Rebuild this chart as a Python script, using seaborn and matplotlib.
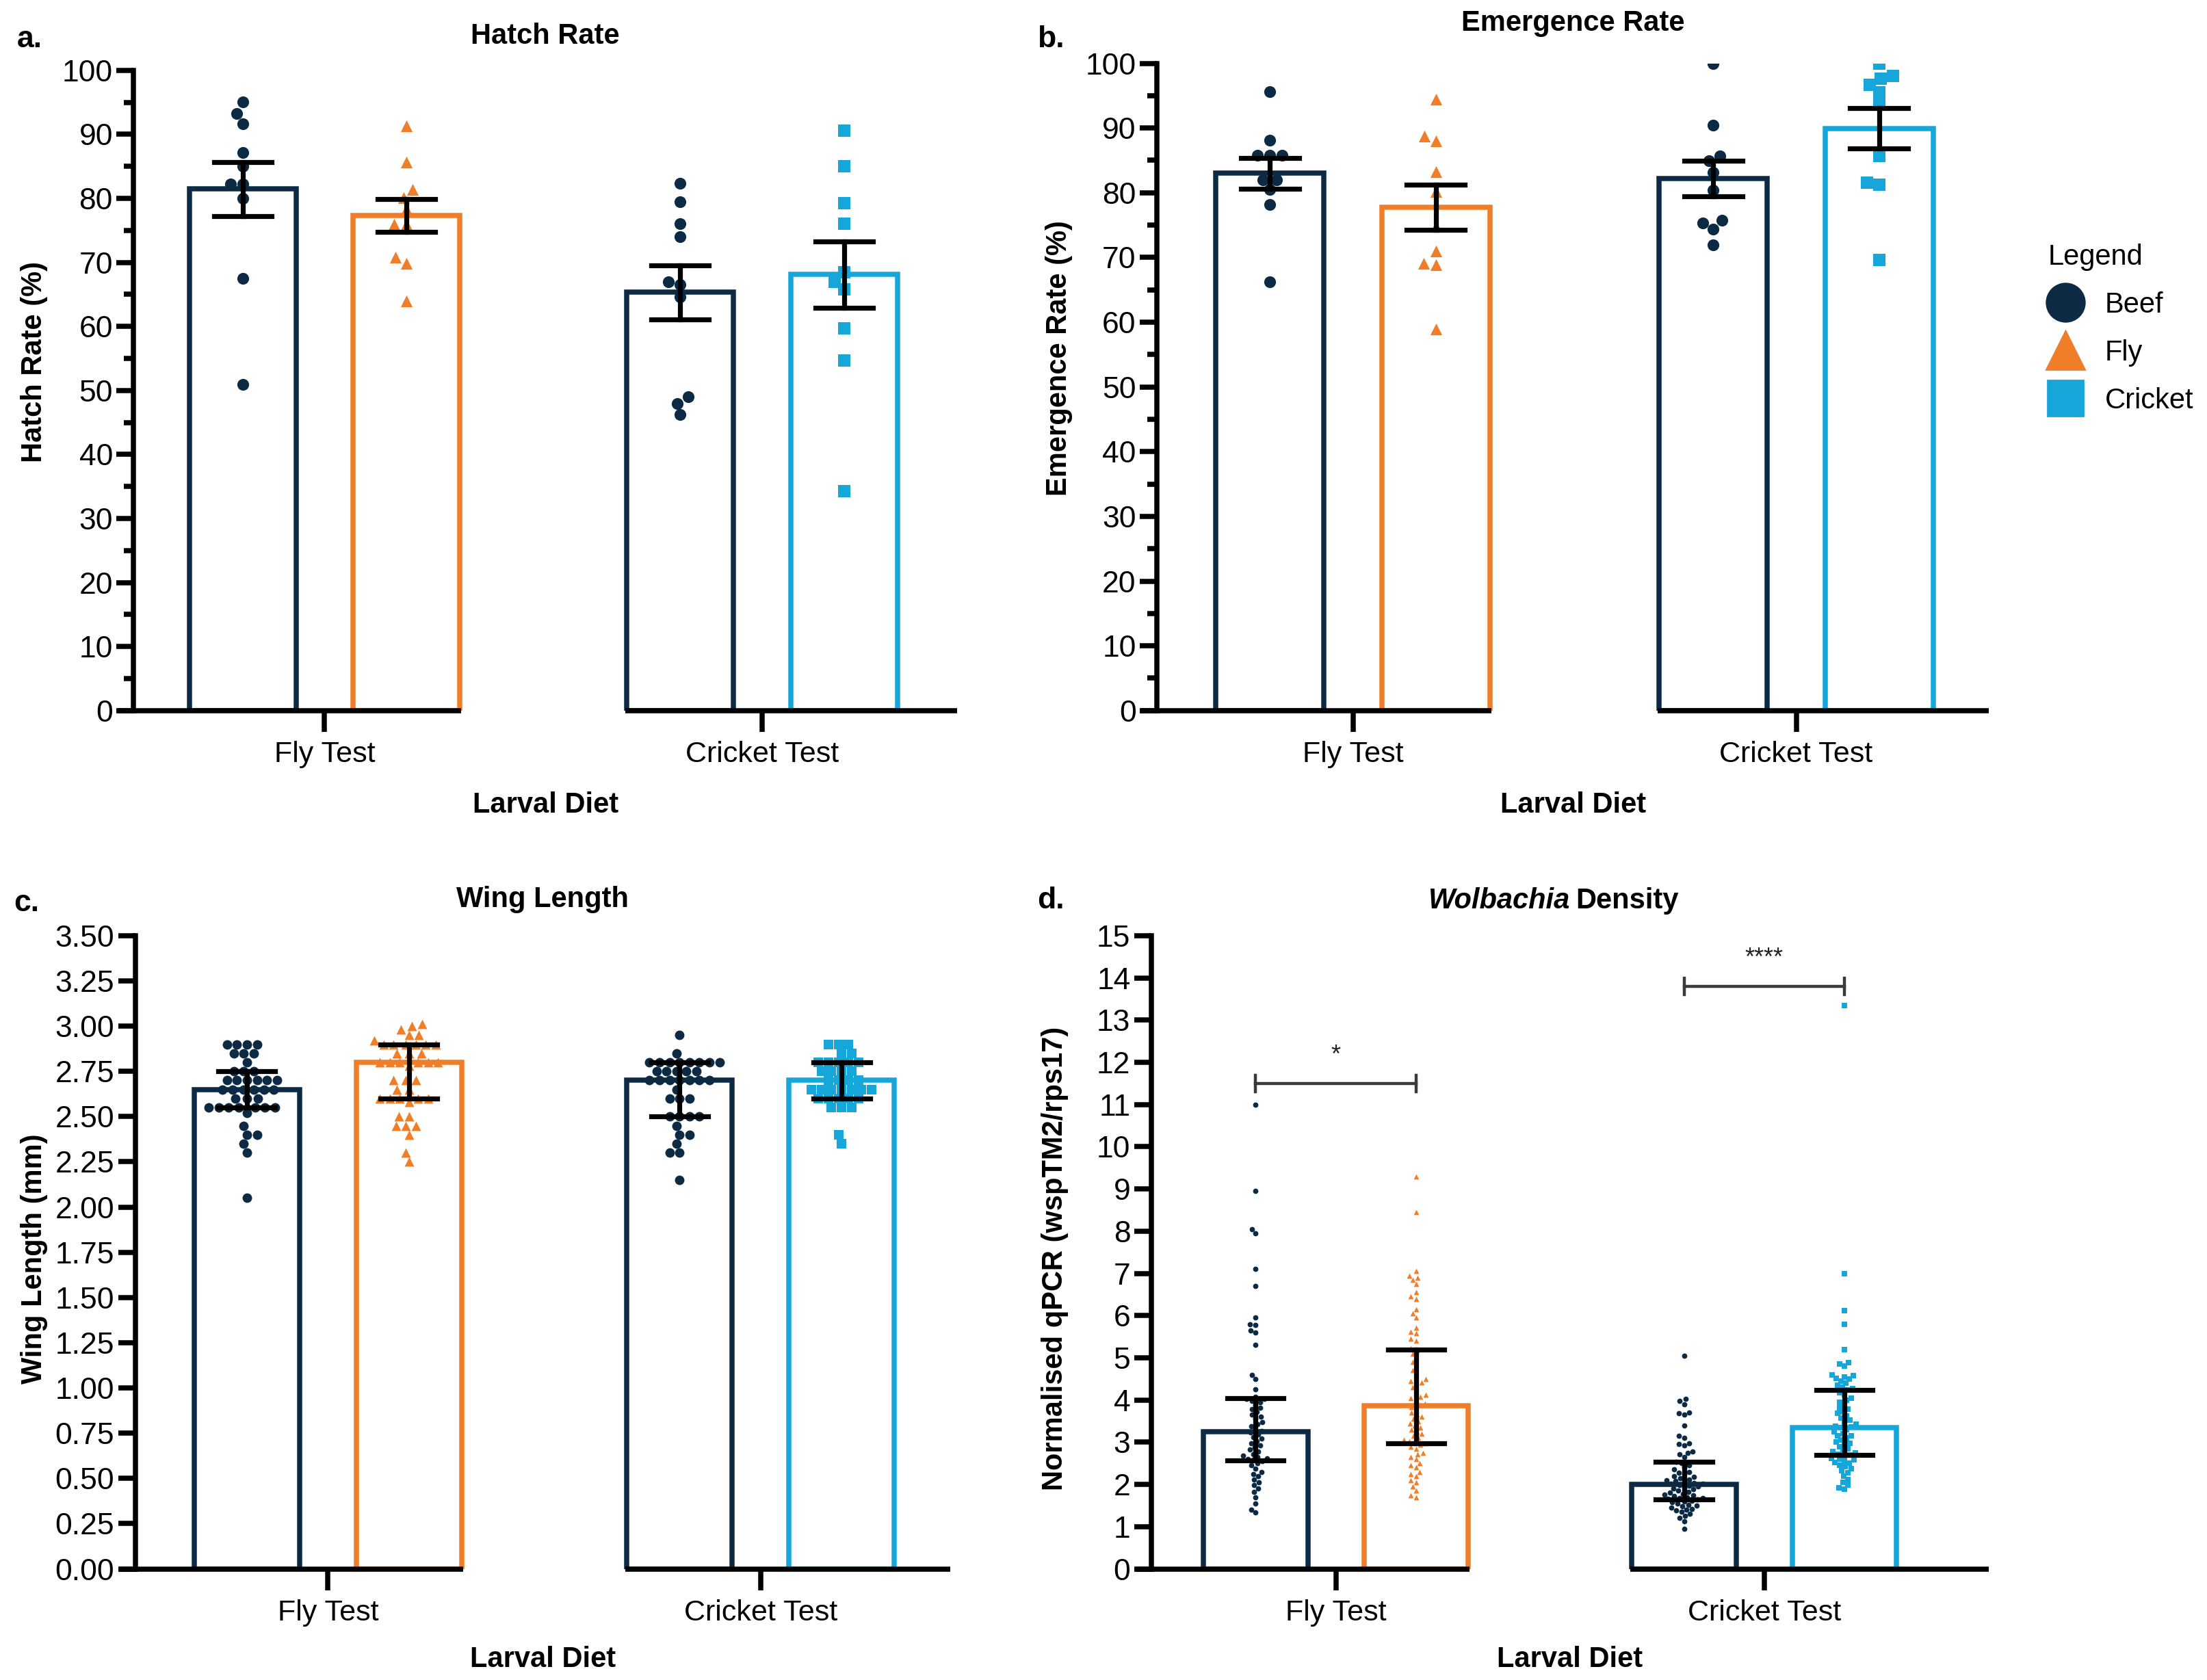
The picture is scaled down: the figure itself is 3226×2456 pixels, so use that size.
import warnings
warnings.filterwarnings("ignore")
import numpy as np
import pandas as pd
import matplotlib
matplotlib.use("Agg")
import matplotlib.pyplot as plt
from matplotlib.lines import Line2D
import seaborn as sns

# ---------------- data ----------------
TESTS = ["Fly Test", "Cricket Test"]
DIETS = ["Beef", "Fly", "Cricket"]
GROUP_DIETS = {"Fly Test": ["Beef", "Fly"], "Cricket Test": ["Beef", "Cricket"]}

# a. Hatch rate (%)
hatch_fly_beef = [95.1, 93.2, 91.6, 87.2, 85.0, 82.2, 82.2, 80.0, 67.5, 50.9]
hatch_fly_fly = [91.3, 85.7, 81.4, 80.1, 78.3, 75.9, 75.9, 70.8, 69.9, 64.0]
hatch_cricket_beef = [82.4, 79.5, 76.0, 74.0, 67.0, 66.5, 64.6, 49.0, 48.0, 46.2]
hatch_cricket_cricket = [90.6, 85.0, 79.3, 76.0, 68.5, 67.0, 65.8, 59.7, 54.7, 34.3]

# b. Emergence rate (%)
emerg_fly_beef = [95.6, 88.1, 85.8, 85.8, 85.8, 82.0, 82.0, 80.5, 78.2, 66.2]
emerg_fly_fly = [94.5, 88.7, 88.0, 83.3, 80.2, 74.8, 71.0, 69.1, 68.9, 58.9]
emerg_cricket_beef = [100.0, 90.4, 85.7, 84.9, 83.2, 80.4, 75.7, 75.3, 74.4, 71.9]
emerg_cricket_cricket = [100.0, 98.0, 97.6, 96.7, 95.5, 93.6, 85.7, 81.6, 81.3, 69.6]

# c. Wing length (mm)
wing_fly_beef = [2.90, 2.90, 2.90, 2.90, 2.85, 2.85, 2.85, 2.80, 2.75, 2.75, 2.75,
                 2.70, 2.70, 2.70, 2.70, 2.70, 2.70, 2.65, 2.65, 2.65, 2.65, 2.65, 2.65,
                 2.60, 2.60, 2.60, 2.55, 2.55, 2.55, 2.55, 2.55, 2.55, 2.55,
                 2.52, 2.45, 2.40, 2.40, 2.35, 2.30, 2.05]
wing_fly_fly = [3.01, 3.00, 2.98, 2.95, 2.95, 2.92, 2.90, 2.90, 2.90, 2.90, 2.90, 2.90,
                2.85, 2.85, 2.85, 2.80, 2.80, 2.80, 2.80, 2.80, 2.80, 2.78,
                2.70, 2.70, 2.70, 2.65, 2.65, 2.60, 2.60, 2.60, 2.60, 2.60, 2.58,
                2.50, 2.50, 2.45, 2.45, 2.45, 2.40, 2.30, 2.25]
wing_cricket_beef = [2.95, 2.85, 2.80, 2.80, 2.80, 2.80, 2.80, 2.80, 2.80, 2.80,
                     2.75, 2.75, 2.75, 2.75, 2.75, 2.70, 2.70, 2.70, 2.70, 2.70, 2.70, 2.70,
                     2.65, 2.60, 2.60, 2.60, 2.50, 2.50, 2.50, 2.50,
                     2.45, 2.40, 2.40, 2.35, 2.30, 2.30, 2.15]
wing_cricket_cricket = [2.90, 2.90, 2.90, 2.85, 2.85, 2.80, 2.80, 2.80, 2.80, 2.80,
                        2.75, 2.75, 2.75, 2.75, 2.70, 2.70, 2.70, 2.70,
                        2.65, 2.65, 2.65, 2.65, 2.65, 2.65, 2.65,
                        2.60, 2.60, 2.60, 2.60, 2.60, 2.55, 2.55, 2.55, 2.40, 2.35]

# d. Wolbachia density (wspTM2/rps17)
wol_fly_beef = [11.0, 8.95, 8.05, 7.95, 7.1, 6.7, 5.95, 5.8, 5.78, 5.65, 5.6, 5.3, 4.6, 4.5, 4.25,
                4.08, 4.03, 4.02, 3.98, 3.95,
                3.88, 3.82, 3.78, 3.72, 3.65, 3.6, 3.55, 3.48, 3.42, 3.38, 3.3,
                3.27, 3.23,
                3.18, 3.12, 3.08, 3.02, 2.98, 2.92, 2.88, 2.82, 2.78, 2.72, 2.68, 2.65, 2.62, 2.6,
                2.58, 2.56,
                2.5, 2.45, 2.38, 2.3, 2.25, 2.2, 2.12, 2.05, 1.98, 1.9, 1.82, 1.7, 1.55, 1.4, 1.33]
wol_fly_fly = [9.3, 8.45, 7.05, 6.95, 6.9, 6.85, 6.75, 6.55, 6.45, 6.4, 6.15, 6.05, 5.95, 5.72,
               5.62, 5.58, 5.45, 5.4,
               5.22, 5.18,
               5.1, 5.0, 4.9, 4.8, 4.7, 4.6, 4.5, 4.45, 4.42, 4.4, 4.3, 4.2, 4.12, 4.08, 4.05,
               4.0, 3.92,
               3.88, 3.84,
               3.78, 3.7, 3.65, 3.6, 3.55, 3.5, 3.45, 3.4, 3.35, 3.3, 3.25, 3.2, 3.15, 3.1, 3.05,
               3.02, 3.0,
               2.98, 2.94,
               2.9, 2.85, 2.75, 2.72, 2.65, 2.6, 2.5, 2.45, 2.4, 2.3, 2.25, 2.2, 2.1, 2.05, 1.95,
               1.85, 1.75, 1.7]
wol_cricket_beef = [5.05, 4.02, 3.98, 3.9, 3.7, 3.68, 3.65, 3.4, 3.15, 3.1, 2.98, 2.95, 2.92,
                    2.78, 2.75, 2.72, 2.65,
                    2.54, 2.51,
                    2.45, 2.4, 2.35, 2.3, 2.28, 2.25, 2.2, 2.18, 2.15, 2.12, 2.1, 2.08, 2.06,
                    2.04, 2.02,
                    2.01, 1.99,
                    1.97, 1.95, 1.92, 1.9, 1.88, 1.85, 1.83, 1.8, 1.78, 1.76, 1.74, 1.72, 1.7,
                    1.68, 1.67,
                    1.66, 1.64,
                    1.62, 1.6, 1.58, 1.55, 1.52, 1.5, 1.48, 1.45, 1.42, 1.4, 1.38, 1.35, 1.3,
                    1.25, 1.2, 1.12, 0.95]
wol_cricket_cricket = [13.35, 7.0, 6.12, 5.8, 5.2, 4.88, 4.85, 4.8, 4.6, 4.58, 4.55, 4.52, 4.5,
                       4.45, 4.4, 4.35, 4.3,
                       4.27, 4.23,
                       4.18, 4.12, 4.05, 4.0, 3.95, 3.88, 3.82, 3.78, 3.72, 3.68, 3.62, 3.58,
                       3.52, 3.48, 3.42, 3.38,
                       3.36, 3.34,
                       3.3, 3.25, 3.2, 3.16, 3.15, 3.1, 3.05, 3.0, 2.98, 2.95, 2.9, 2.85, 2.8,
                       2.78, 2.75, 2.72,
                       2.7, 2.68,
                       2.62, 2.6, 2.58, 2.55, 2.52, 2.5, 2.45, 2.42, 2.38, 2.32, 2.28, 2.2,
                       2.12, 2.05, 1.98, 1.92, 1.88]

SIG_LABELS = ["*", "****"]

# ---------------- style ----------------
COLORS = {"Beef": "#0c2a44", "Fly": "#f07d27", "Cricket": "#17a6d9"}
MARKERS = {"Beef": "o", "Fly": "^", "Cricket": "s"}
GROUP_GAP = 2.67
BAR_W = 0.65
LW = 2.7

plt.rcParams["font.family"] = ["Liberation Sans", "DejaVu Sans"]
plt.rcParams["axes.linewidth"] = LW


def make_df(groups):
    rows = []
    for gi, test in enumerate(TESTS):
        for di, diet in enumerate(GROUP_DIETS[test]):
            pos = gi * GROUP_GAP + di
            for v in groups[(test, diet)]:
                rows.append((test, diet, pos, v))
    return pd.DataFrame(rows, columns=["test", "diet", "pos", "value"])


def draw_panel(ax, df, estimator, errorbar, ymax, major, minor, msize, xlim, fmt,
               ylabel, ylabel_xy, xlabelpad):
    sns.barplot(data=df, x="pos", y="value", hue="diet", hue_order=DIETS,
                palette=COLORS, native_scale=True, dodge=False, fill=False,
                width=BAR_W, linewidth=LW, estimator=estimator, errorbar=errorbar,
                capsize=0.35, err_kws={"color": "black", "linewidth": 2.6},
                legend=False, ax=ax)
    for diet in DIETS:
        sub = df[df["diet"] == diet]
        if sub.empty:
            continue
        sns.swarmplot(data=sub, x="pos", y="value", native_scale=True,
                      color=COLORS[diet], marker=MARKERS[diet], size=msize,
                      linewidth=0, ax=ax, legend=False)
    for p in ax.patches:
        p.set_zorder(2)
    for c in ax.collections:
        c.set_zorder(3)
    for l in ax.lines:
        l.set_zorder(4)

    ax.set_xlim(*xlim)
    ax.set_ylim(0, ymax)
    ax.set_yticks(np.arange(0, ymax + major / 2, major))
    if minor:
        ax.set_yticks(np.arange(minor, ymax, major), minor=True)
    ax.yaxis.set_major_formatter(matplotlib.ticker.FormatStrFormatter(fmt))
    ax.set_xticks([0.5, GROUP_GAP + 0.5])
    ax.set_xticklabels(TESTS)
    for s in ["top", "right", "bottom"]:
        ax.spines[s].set_visible(False)
    ax.spines["left"].set_linewidth(LW)
    ax.tick_params(axis="y", which="major", length=9, width=LW, labelsize=16, pad=2)
    ax.tick_params(axis="y", which="minor", length=5, width=LW)
    ax.tick_params(axis="x", which="major", length=11, width=LW, labelsize=15.5, pad=5)
    # broken x-axis
    trans = ax.get_xaxis_transform()
    ax.plot([xlim[0] - 0.1, 1 + BAR_W / 2 + 0.01], [0, 0], transform=trans,
            color="black", lw=LW, clip_on=False, solid_capstyle="butt", zorder=5)
    ax.plot([GROUP_GAP - BAR_W / 2 - 0.01, xlim[1]], [0, 0], transform=trans,
            color="black", lw=LW, clip_on=False, solid_capstyle="butt", zorder=5)
    ax.set_xlabel("Larval Diet", fontsize=15, fontweight="bold", labelpad=xlabelpad)
    ax.set_ylabel(ylabel, fontsize=15, fontweight="bold")
    ax.yaxis.set_label_coords(*ylabel_xy)


fig = plt.figure(figsize=(16.13, 12.28), dpi=200)
W, H = 1568.0, 1194.0


def add_ax(l, r, t, b):
    return fig.add_axes([l / W, 1 - b / H, (r - l) / W, (b - t) / H])


ax_a = add_ax(95, 680, 50, 505)
ax_b = add_ax(822, 1413, 45, 505)
ax_c = add_ax(96, 675, 665, 1115)
ax_d = add_ax(818, 1413, 665, 1115)

df_a = make_df({("Fly Test", "Beef"): hatch_fly_beef, ("Fly Test", "Fly"): hatch_fly_fly,
                ("Cricket Test", "Beef"): hatch_cricket_beef,
                ("Cricket Test", "Cricket"): hatch_cricket_cricket})
df_b = make_df({("Fly Test", "Beef"): emerg_fly_beef, ("Fly Test", "Fly"): emerg_fly_fly,
                ("Cricket Test", "Beef"): emerg_cricket_beef,
                ("Cricket Test", "Cricket"): emerg_cricket_cricket})
df_c = make_df({("Fly Test", "Beef"): wing_fly_beef, ("Fly Test", "Fly"): wing_fly_fly,
                ("Cricket Test", "Beef"): wing_cricket_beef,
                ("Cricket Test", "Cricket"): wing_cricket_cricket})
df_d = make_df({("Fly Test", "Beef"): wol_fly_beef, ("Fly Test", "Fly"): wol_fly_fly,
                ("Cricket Test", "Beef"): wol_cricket_beef,
                ("Cricket Test", "Cricket"): wol_cricket_cricket})

draw_panel(ax_a, df_a, "mean", "se", 100, 10, 5, 6.2, (-0.665, 4.36), "%d",
           "Hatch Rate (%)", (-0.104, 0.545), 12)
draw_panel(ax_b, df_b, "mean", "se", 100, 10, 5, 6.2, (-0.68, 4.33), "%d",
           "Emergence Rate (%)", (-0.101, 0.545), 12)
draw_panel(ax_c, df_c, "median", ("pi", 50), 3.5, 0.25, None, 5.0, (-0.69, 4.34), "%.2f",
           "Wing Length (mm)", (-0.107, 0.49), 10)
draw_panel(ax_d, df_d, "median", ("pi", 50), 15, 1, None, 2.8, (-0.65, 4.57), "%d",
           "Normalised qPCR (wspTM2/rps17)", (-0.099, 0.49), 10)

# titles
ax_a.set_title("Hatch Rate", fontsize=15, fontweight="bold", pad=14)
ax_b.set_title("Emergence Rate", fontsize=15, fontweight="bold", pad=17)
ax_c.set_title("Wing Length", fontsize=15, fontweight="bold", pad=15)
ax_d.text(0.50, 1.0 + 15 / 450, "Wolbachia", transform=ax_d.transAxes, ha="right",
          va="bottom", fontsize=15, fontweight="bold", fontstyle="italic")
ax_d.text(0.507, 1.0 + 15 / 450, "Density", transform=ax_d.transAxes, ha="left",
          va="bottom", fontsize=15, fontweight="bold")

# significance brackets (panel d)
sig_levels = [11.5, 13.8]
for gi, (lvl, lab) in enumerate(zip(sig_levels, SIG_LABELS)):
    x0 = gi * GROUP_GAP
    x1 = gi * GROUP_GAP + 1
    ax_d.plot([x0, x1], [lvl, lvl], color="#3a3a3a", lw=1.6, zorder=6)
    for xx in (x0, x1):
        ax_d.plot([xx, xx], [lvl - 0.2, lvl + 0.2], color="#3a3a3a", lw=1.6, zorder=6)
    ax_d.text((x0 + x1) / 2, lvl + 0.5, lab, ha="center", va="baseline", fontsize=13,
              color="#222222")

# panel letters
for letter, (x, y) in zip(["a.", "b.", "c.", "d."],
                          [(12, 28), (737, 28), (10, 642), (737, 640)]):
    fig.text(x / W, 1 - y / H, letter, fontsize=16, fontweight="bold", va="center", ha="left")

# legend
handles = [Line2D([], [], marker=MARKERS[d], color=COLORS[d], linestyle="None",
                  markersize=20 if d != "Cricket" else 18.5) for d in DIETS]
leg = fig.legend(handles, DIETS, title="Legend", loc="upper left",
                 bbox_to_anchor=(1447 / W, 1 - 165 / H), frameon=False, fontsize=15,
                 title_fontsize=15, labelspacing=0.72, handletextpad=0.8,
                 handlelength=1.2, borderaxespad=0)
leg._legend_box.align = "left"

fig.savefig("out.png", dpi=200)
